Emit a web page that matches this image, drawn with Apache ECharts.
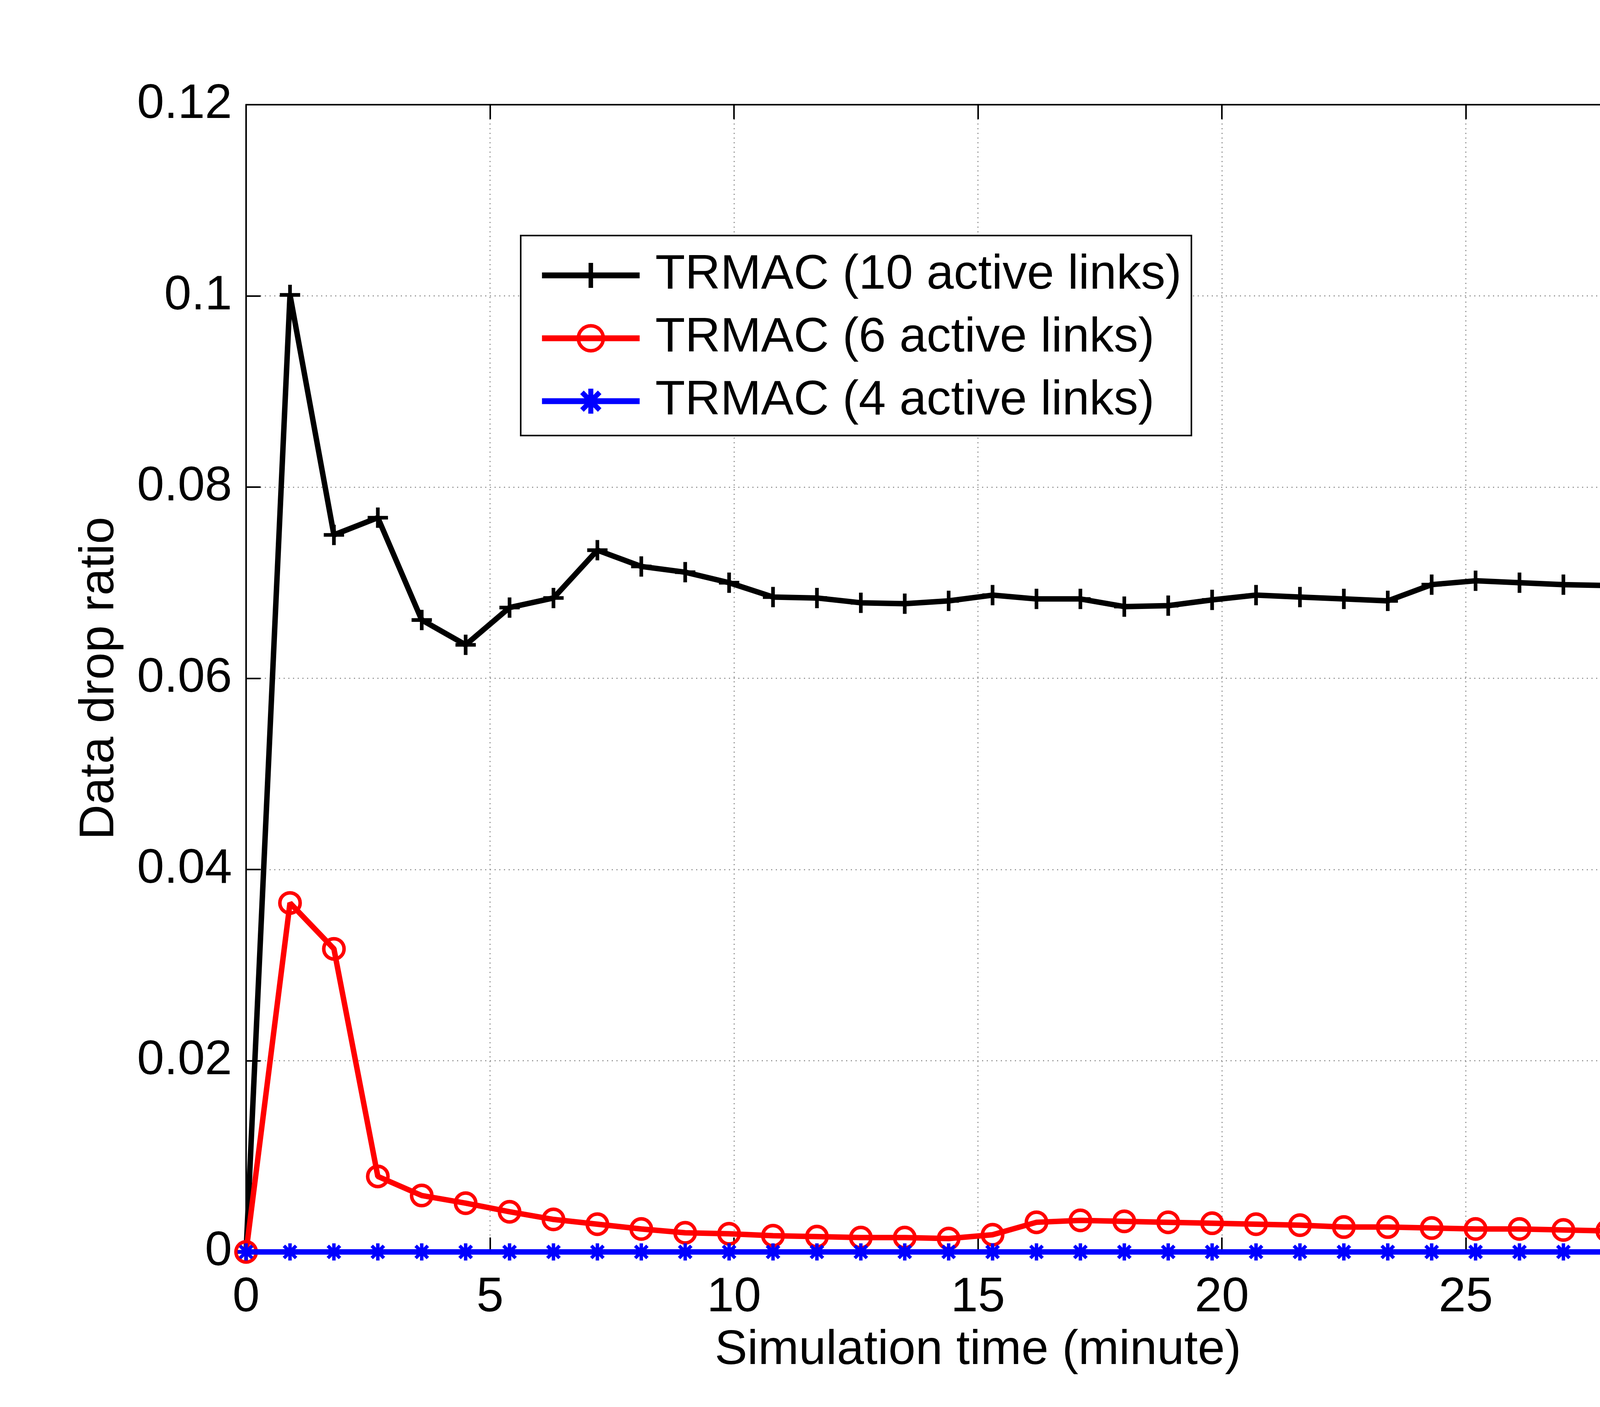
<!DOCTYPE html>
<html>
<head>
<meta charset="utf-8">
<script src="https://cdn.jsdelivr.net/npm/echarts@6/dist/echarts.min.js"></script>
<style>
  html, body { margin: 0; padding: 0; background: #fff; }
  #chart { width: 4804px; height: 3602px; }
</style>
</head>
<body>
<div id="chart"></div>
<script>
// simulation time (minute)
const times = [0, 0.9, 1.8, 2.7, 3.6, 4.5, 5.4, 6.3, 7.2, 8.1, 9, 9.9, 10.8, 11.7, 12.6, 13.5, 14.4,
  15.3, 16.2, 17.1, 18, 18.9, 19.8, 20.7, 21.6, 22.5, 23.4, 24.3, 25.2, 26.1, 27, 27.9, 28.8, 29.7]

// data drop ratio per series
const links10 = [0, 0.1001, 0.0750, 0.0768, 0.0661, 0.0635, 0.0674, 0.0684, 0.0734, 0.0717, 0.0711,
  0.0700, 0.0685, 0.0684, 0.0679, 0.0678, 0.0681, 0.0687, 0.0683, 0.0683, 0.0675, 0.0676, 0.0682,
  0.0687, 0.0685, 0.0683, 0.0681, 0.0698, 0.0702, 0.0700, 0.0698, 0.0697, 0.0698, 0.0701]
const links6 = [0, 0.0365, 0.0317, 0.0079, 0.0059, 0.0051, 0.0042, 0.0034, 0.0029, 0.0024, 0.0020,
  0.0019, 0.0017, 0.0016, 0.0015, 0.0015, 0.0014, 0.0018, 0.0031, 0.0033, 0.0032, 0.0031, 0.0030,
  0.0029, 0.0028, 0.0026, 0.0026, 0.0025, 0.0024, 0.0024, 0.0023, 0.0022, 0.0022, 0.0021]
const links4 = [0, 0, 0, 0, 0, 0, 0, 0, 0, 0, 0, 0, 0, 0, 0, 0, 0, 0, 0, 0, 0, 0, 0, 0, 0, 0, 0, 0,
  0, 0, 0, 0, 0, 0]

const seriesNames = ['TRMAC (10 active links)', 'TRMAC (6 active links)', 'TRMAC (4 active links)']

const FONT = "'Liberation Sans', Arial, sans-serif"

// matlab-like marker shapes
const plusPath = 'path://M-0.9,-5 L0.9,-5 L0.9,-0.9 L5,-0.9 L5,0.9 L0.9,0.9 L0.9,5 L-0.9,5 L-0.9,0.9 L-5,0.9 L-5,-0.9 L-0.9,-0.9 Z'
const starPath = 'path://M-10,-2 L10,-2 L10,2 L-10,2 Z ' +
  'M2,-10 L2,10 L-2,10 L-2,-10 Z ' +
  'M-5.66,-8.49 L8.49,5.66 L5.66,8.49 L-8.49,-5.66 Z ' +
  'M-8.49,5.66 L5.66,-8.49 L8.49,-5.66 L-5.66,8.49 Z'

const pairs = (ys) => times.map((t, i) => [t, ys[i]])

const chart = echarts.init(document.getElementById('chart'), null, { renderer: 'canvas' })

const axisLine = { show: true, onZero: false, lineStyle: { color: '#000', width: 4 } }
const tick = { show: true, inside: true, length: 37, lineStyle: { color: '#000', width: 4 } }
const grid = { show: true, lineStyle: { color: '#9a9a9a', width: 3, type: [3, 9] } }

const option = {
  backgroundColor: '#fff',
  animation: false,
  grid: { left: 630, right: 427, top: 268, bottom: 397, containLabel: false },
  legend: {
    orient: 'vertical',
    left: 1333,
    top: 603,
    padding: [32, 25, 18, 47],
    itemGap: 21,
    itemWidth: 250,
    itemHeight: 80,
    backgroundColor: '#fff',
    borderColor: '#000',
    borderWidth: 4,
    borderRadius: 0,
    textStyle: { fontFamily: FONT, fontSize: 125, color: '#000', lineHeight: 140, padding: [0, 0, 0, 35] },
    data: [
      { name: seriesNames[0], lineStyle: { width: 15 } },
      { name: seriesNames[1], lineStyle: { width: 15 }, itemStyle: { borderWidth: 9 } },
      { name: seriesNames[2], lineStyle: { width: 15 } }
    ]
  },
  xAxis: [{
    type: 'value',
    min: 0, max: 30, interval: 5,
    name: 'Simulation time (minute)',
    nameLocation: 'middle',
    nameGap: 190,
    nameTextStyle: { fontFamily: FONT, fontSize: 125, color: '#000' },
    axisLine, axisTick: tick,
    axisLabel: { fontFamily: FONT, fontSize: 125, color: '#000', margin: 55 },
    splitLine: grid
  }, {
    type: 'value', position: 'top',
    min: 0, max: 30, interval: 5,
    axisLine, axisTick: tick,
    axisLabel: { show: false }, splitLine: { show: false }
  }],
  yAxis: [{
    type: 'value',
    min: 0, max: 0.12, interval: 0.02,
    name: 'Data drop ratio',
    nameLocation: 'middle',
    nameGap: 312,
    nameTextStyle: { fontFamily: FONT, fontSize: 125, color: '#000' },
    axisLine, axisTick: tick,
    axisLabel: { fontFamily: FONT, fontSize: 125, color: '#000', margin: 36 },
    splitLine: grid
  }, {
    type: 'value', position: 'right',
    min: 0, max: 0.12, interval: 0.02,
    axisLine, axisTick: tick,
    axisLabel: { show: false }, splitLine: { show: false }
  }],
  series: [{
    name: seriesNames[0],
    type: 'line',
    data: pairs(links10),
    symbol: plusPath,
    symbolSize: 52,
    clip: false,
    lineStyle: { color: '#000', width: 14 },
    itemStyle: { color: '#000' },
    z: 2
  }, {
    name: seriesNames[1],
    type: 'line',
    data: pairs(links6),
    symbol: 'circle',
    symbolSize: 52,
    clip: false,
    lineStyle: { color: '#ff0000', width: 14 },
    itemStyle: { color: 'rgba(0,0,0,0)', borderColor: '#ff0000', borderWidth: 9 },
    z: 3
  }, {
    name: seriesNames[2],
    type: 'line',
    data: pairs(links4),
    symbol: starPath,
    symbolSize: 44,
    clip: false,
    lineStyle: { color: '#0000ff', width: 14 },
    itemStyle: { color: '#0000ff' },
    z: 4
  }]
}

chart.setOption(option)
</script>
</body>
</html>
